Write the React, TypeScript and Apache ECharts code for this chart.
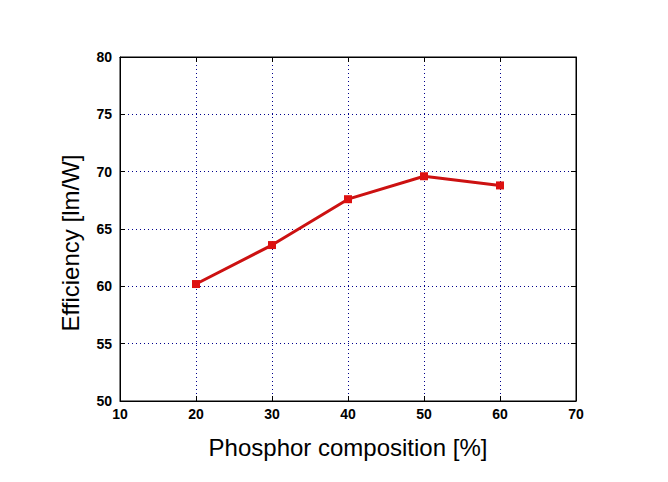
import React, { useEffect, useRef } from "react";
import * as echarts from "echarts";

const composition = [20, 30, 40, 50, 60];
const efficiency = [60.2, 63.6, 67.6, 69.6, 68.8];
const yTitle = "Efficiency [lm/W]";
const xTitle = "Phosphor composition [%]";

export default function App() {
  const ref = useRef<HTMLDivElement>(null);
  useEffect(() => {
    const chart = echarts.init(ref.current!, null, { renderer: "svg" });
    const labelFont = { fontFamily: "Liberation Sans, Arial", fontWeight: "bold" as const, fontSize: 14, color: "#000" };
    const splitLine = { show: true, lineStyle: { color: "#00008b", type: [1, 3] as any, width: 1 } };
    chart.setOption({
      animation: false,
      backgroundColor: "#fff",
      grid: { left: 120, right: 92, top: 57, bottom: 81, show: true, borderColor: "#000", borderWidth: 1, backgroundColor: "#fff" },
      graphic: [
        {
          type: "text", x: 70, y: 243, rotation: Math.PI / 2,
          style: {
            text: yTitle, fontFamily: "Liberation Sans, Arial", fontSize: 24, fill: "#000",
            align: "center", verticalAlign: "middle",
          },
        },
      ],
      xAxis: [
        {
          type: "value", min: 10, max: 70, interval: 10,
          name: xTitle, nameLocation: "middle", nameGap: 34,
          nameTextStyle: { fontFamily: "Liberation Sans, Arial", fontSize: 24, color: "#000" },
          axisLine: { lineStyle: { color: "#000" } },
          axisTick: { inside: true, length: 5, lineStyle: { color: "#000" } },
          axisLabel: { ...labelFont, margin: 6 },
          splitLine,
        },
        {
          type: "value", min: 10, max: 70, interval: 10, position: "top",
          axisLine: { lineStyle: { color: "#000" } },
          axisTick: { inside: true, length: 5, lineStyle: { color: "#000" } },
          axisLabel: { show: false }, splitLine: { show: false },
        },
      ],
      yAxis: [
        {
          type: "value", min: 50, max: 80, interval: 5,
          axisLine: { show: true, lineStyle: { color: "#000" } },
          axisTick: { show: true, inside: true, length: 5, lineStyle: { color: "#000" } },
          axisLabel: { ...labelFont, margin: 8 },
          splitLine,
        },
        {
          type: "value", min: 50, max: 80, interval: 5, position: "right",
          axisLine: { show: true, lineStyle: { color: "#000" } },
          axisTick: { show: true, inside: true, length: 5, lineStyle: { color: "#000" } },
          axisLabel: { show: false }, splitLine: { show: false },
        },
      ],
      series: [
        {
          type: "line",
          data: composition.map((c, i) => [c, efficiency[i]]),
          symbol: "rect", symbolSize: 8,
          itemStyle: { color: "#dd1111" },
          lineStyle: { color: "#cc1111", width: 3 },
        },
      ],
    });
    return () => chart.dispose();
  }, []);
  return <div ref={ref} style={{ width: 668, height: 482, position: "absolute", left: 0, top: 0 }} />;
}
